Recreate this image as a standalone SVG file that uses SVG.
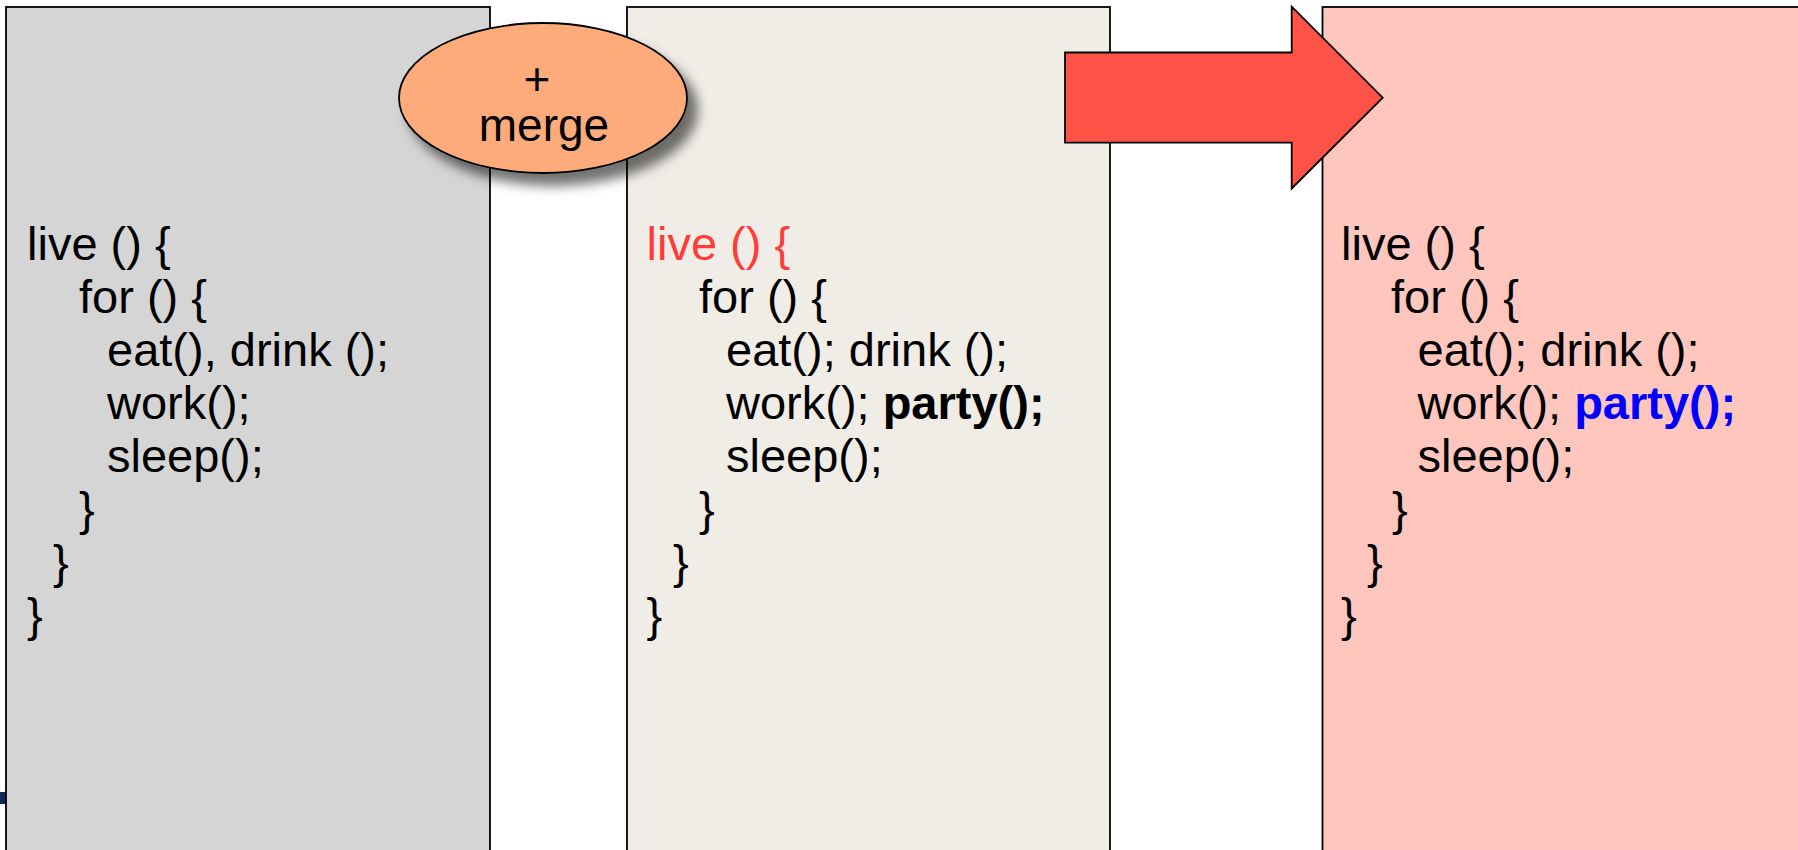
<svg xmlns="http://www.w3.org/2000/svg" width="1798" height="850" viewBox="0 0 1798 850">
<style>
.box{stroke:#000;stroke-width:1.8}
.code{font-family:"Liberation Sans",Arial,sans-serif;font-size:47px;fill:#000}
.red{fill:#ff3b3b}
.b{font-weight:bold}
.blue{fill:#0000ff}
.lbl{font-family:"Liberation Sans",Arial,sans-serif;font-size:46px;fill:#000;text-anchor:middle}
</style>
<defs>
<filter id="sh" x="-20%" y="-20%" width="150%" height="160%">
<feDropShadow dx="10" dy="12" stdDeviation="6" flood-color="#000" flood-opacity="0.55"/>
</filter>
</defs>
<rect x="0" y="792" width="6" height="12" fill="#0b2a55"/>
<g id="box1">
<rect class="box" x="6" y="7" width="484" height="860" fill="#d5d5d5"/>
<text class="code" x="27" y="260">live () {</text>
<text class="code" x="79" y="313">for () {</text>
<text class="code" x="107" y="366">eat(), drink ();</text>
<text class="code" x="107" y="419">work();</text>
<text class="code" x="107" y="472">sleep();</text>
<text class="code" x="79" y="525">}</text>
<text class="code" x="53" y="578">}</text>
<text class="code" x="27" y="631">}</text>
</g>
<g id="box2">
<rect class="box" x="627" y="7" width="483" height="860" fill="#f0ede6"/>
<text class="code red" x="646.5" y="260">live () {</text>
<text class="code" x="699" y="313">for () {</text>
<text class="code" x="726" y="366">eat(); drink ();</text>
<text class="code" x="726" y="419">work(); <tspan class="b">party();</tspan></text>
<text class="code" x="726" y="472">sleep();</text>
<text class="code" x="699" y="525">}</text>
<text class="code" x="673" y="578">}</text>
<text class="code" x="646.5" y="631">}</text>
</g>
<g id="box3">
<rect class="box" x="1322.5" y="7" width="490" height="860" fill="#ffc6be"/>
<text class="code" x="1341" y="260">live () {</text>
<text class="code" x="1391" y="313">for () {</text>
<text class="code" x="1417.5" y="366">eat(); drink ();</text>
<text class="code" x="1417.5" y="419">work(); <tspan class="b blue">party();</tspan></text>
<text class="code" x="1417.5" y="472">sleep();</text>
<text class="code" x="1392" y="525">}</text>
<text class="code" x="1367" y="578">}</text>
<text class="code" x="1341" y="631">}</text>
</g>
<g id="merge">
<ellipse cx="543" cy="98" rx="144" ry="75" fill="#fdab7a" stroke="#000" stroke-width="1.8" filter="url(#sh)"/>
<text class="lbl"><tspan x="537" y="95">+</tspan><tspan x="544" y="141">merge</tspan></text>
</g>
<g id="connectors">
<path d="M1065,52.5 H1291.7 V6.7 L1382.7,97.7 L1291.7,188.5 V142.7 H1065 Z" fill="#ff5347" stroke="#000" stroke-width="1.8" stroke-linejoin="miter"/>
</g>
</svg>
